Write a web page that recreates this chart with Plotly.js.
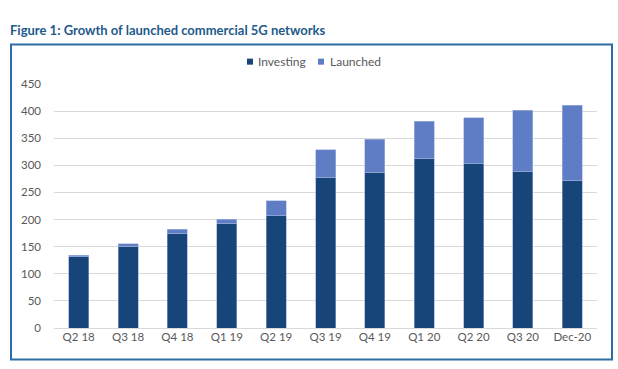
<!DOCTYPE html>
<html>
<head>
<meta charset="utf-8">
<script src="https://cdn.plot.ly/plotly-3.0.1.min.js"></script>
<style>html,body{margin:0;padding:0;background:#fff;}#chart{width:618px;height:369px;}</style>
</head>
<body>
<div id="chart"></div>
<script>
const categories = ["Q2 18","Q3 18","Q4 18","Q1 19","Q2 19","Q3 19","Q4 19","Q1 20","Q2 20","Q3 20","Dec-20"];
const investing = [131, 151, 174, 192, 207, 278, 287, 312, 303, 289, 272];
const launched  = [3, 4, 8, 9, 28, 51, 61, 69, 85, 113, 139];
const yTicks = [0, 50, 100, 150, 200, 250, 300, 350, 400, 450];
const seriesNames = ["Investing", "Launched"];
const seriesColors = ["#17457a", "#5f7dc5"];

const traces = [
  {type: "bar", name: seriesNames[0], x: categories, y: investing,
   marker: {color: seriesColors[0], line: {width: 0.6, color: "#8fa6cf"}}, hoverinfo: "x+y"},
  {type: "bar", name: seriesNames[1], x: categories, y: launched,
   marker: {color: seriesColors[1], line: {width: 0.6, color: "#a9bbe3"}}, hoverinfo: "x+y"}
];

const px0 = 54, pw = 543, py0 = 327.7, ph = 243.4;
function px(x){ return (x - px0) / pw; }
function py(y){ return (py0 - y) / ph; }

// custom compact legend (small square + label)
const legendItems = [{sq: 247, tx: 256}, {sq: 318, tx: 328}];
const legendY = 62;
const legendShapes = legendItems.map((it, i) => ({
  type: "rect", xref: "paper", yref: "paper",
  x0: px(it.sq), x1: px(it.sq + 6), y0: py(legendY + 3), y1: py(legendY - 3),
  line: {width: 0}, fillcolor: seriesColors[i]
}));
const legendAnn = legendItems.map((it, i) => ({
  xref: "paper", yref: "paper", x: px(it.tx), y: py(legendY),
  xanchor: "left", yanchor: "middle", showarrow: false,
  text: seriesNames[i], font: {size: 12, color: "#595959"}
}));

const layout = {
  width: 618, height: 369,
  margin: {l: 54, r: 21, t: 84, b: 41, pad: 0},
  paper_bgcolor: "#ffffff", plot_bgcolor: "#ffffff",
  barmode: "stack", bargap: 0.595,
  font: {family: "Lato, 'Open Sans', sans-serif", color: "#595959", size: 11},
  title: {
    text: "<b>Figure 1: Growth of launched commercial 5G networks</b>",
    font: {family: "Lato, sans-serif", size: 13, color: "#1f5a8c"},
    xref: "container", yref: "container", x: 10/618, y: 1 - 30/369,
    xanchor: "left", yanchor: "middle"
  },
  showlegend: false,
  xaxis: {
    type: "category", showgrid: false, zeroline: false, showline: false,
    ticks: "", tickfont: {size: 11.5, color: "#595959"}, fixedrange: true
  },
  yaxis: {
    range: [0, 450], tickvals: yTicks, ticktext: yTicks.map(String),
    showgrid: true, gridcolor: "#d9d9d9", gridwidth: 1,
    zeroline: true, zerolinecolor: "#d9d9d9", zerolinewidth: 1,
    showline: false, ticks: "", ticklabelstandoff: 12,
    tickfont: {size: 11.5, color: "#595959"}, fixedrange: true
  },
  annotations: legendAnn,
  shapes: [{
    type: "rect", xref: "paper", yref: "paper",
    x0: px(11), x1: px(612), y0: py(359), y1: py(45),
    line: {color: "#2e6ca5", width: 2}, fillcolor: "rgba(0,0,0,0)", layer: "below"
  }].concat(legendShapes)
};

Plotly.newPlot("chart", traces, layout, {displayModeBar: false, staticPlot: true});
</script>
</body>
</html>
